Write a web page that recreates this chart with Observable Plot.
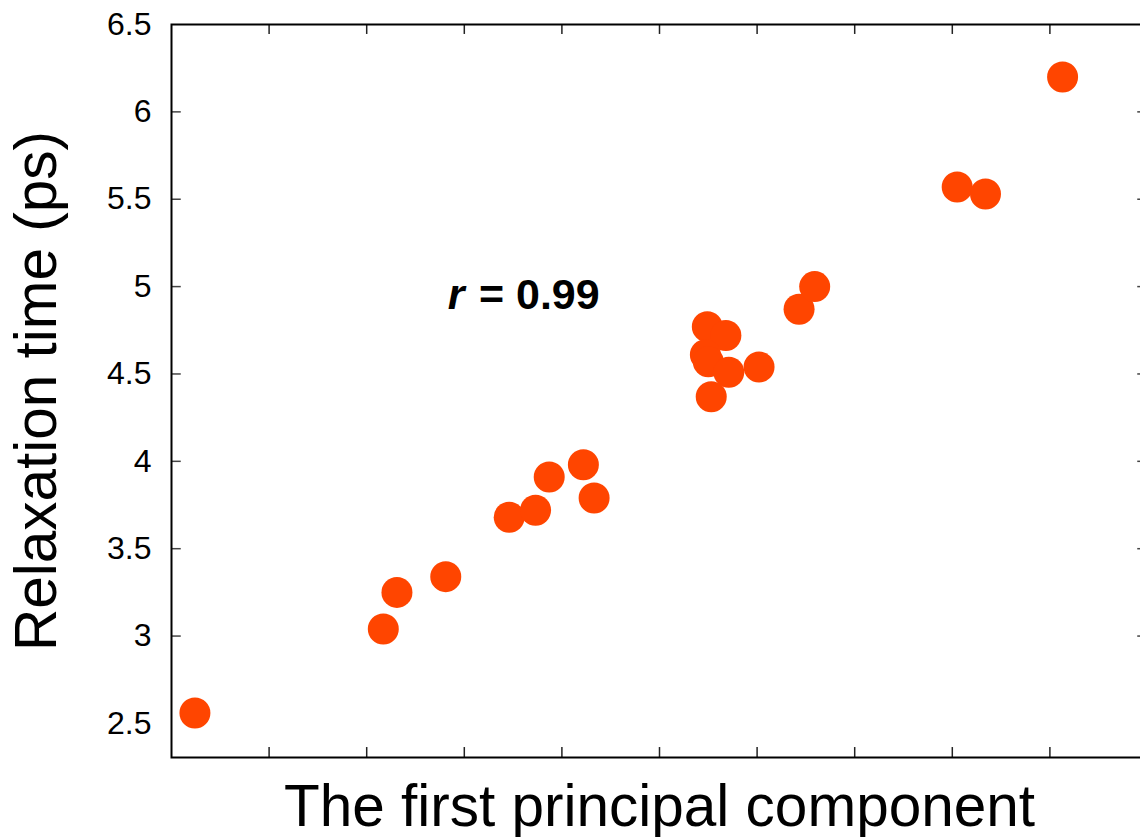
<!DOCTYPE html>
<html>
<head>
<meta charset="utf-8">
<script src="https://cdn.jsdelivr.net/npm/d3@7"></script>
<script src="https://cdn.jsdelivr.net/npm/@observablehq/plot@0.6"></script>
<style>
  html, body { margin: 0; padding: 0; background: #fff; overflow: hidden; }
  #chart svg { max-width: none !important; display: block; }
</style>
</head>
<body>
<div id="chart"></div>
<script>
// Data
const pcValues   = [0.24, 2.17, 2.31, 2.81, 3.46, 3.73, 3.87, 4.22, 4.33, 5.49, 5.68, 5.47, 5.50, 5.71, 5.53, 6.02, 6.43, 6.59, 8.05, 8.34, 9.13];
const relaxTimes = [2.56, 3.04, 3.25, 3.34, 3.68, 3.72, 3.91, 3.98, 3.79, 4.77, 4.72, 4.61, 4.57, 4.51, 4.37, 4.54, 4.87, 5.00, 5.57, 5.53, 6.20];
const yTickValues = [2.5, 3, 3.5, 4, 4.5, 5, 5.5, 6, 6.5];
const yTickLabels = ["2.5", "3", "3.5", "4", "4.5", "5", "5.5", "6", "6.5"];
const xTickValues = [1, 2, 3, 4, 5, 6, 7, 8, 9];
const xLabel = "The first principal component";
const yLabel = "Relaxation time (ps)";
const annotationSymbol = "r";
const annotationValue = "= 0.99";

const points = pcValues.map((x, i) => ({x, y: relaxTimes[i]}));
const xDomain = [0, 10];
const yDomain = [2.305, 6.5];
const tickLenX = 0.1;     // data units along x
const tickLenY = 0.057;   // data units along y

const chart = Plot.plot({
  width: 1160,
  height: 837,
  marginLeft: 171,
  marginRight: 13,
  marginTop: 24,
  marginBottom: 80,
  style: {fontFamily: "'Liberation Sans', Arial, sans-serif", color: "#000", background: "#fff"},
  x: {domain: xDomain, axis: null},
  y: {domain: yDomain, axis: null},
  marks: [
    // inward ticks
    Plot.ruleY(yTickValues.slice(1, -1), {x1: xDomain[0], x2: xDomain[0] + tickLenX, stroke: "#444", strokeWidth: 1.5}),
    Plot.ruleY(yTickValues.slice(1, -1), {x1: xDomain[1] - tickLenX, x2: xDomain[1], stroke: "#444", strokeWidth: 1.5}),
    Plot.ruleX(xTickValues, {y1: yDomain[0], y2: yDomain[0] + tickLenY, stroke: "#222", strokeWidth: 1.5}),
    Plot.ruleX(xTickValues, {y1: yDomain[1] - tickLenY, y2: yDomain[1], stroke: "#222", strokeWidth: 1.5}),
    Plot.frame({stroke: "#000", strokeWidth: 2}),
    // y tick labels
    Plot.text(yTickValues, {
      x: xDomain[0], y: d => d, text: (d, i) => yTickLabels[i],
      textAnchor: "end", dx: -20, fontSize: 32, fill: "#000", lineAnchor: "middle"
    }),
    // points
    Plot.dot(points, {x: "x", y: "y", r: 15.5, fill: "#FF4500", stroke: "none"}),
    // annotation
    Plot.text([annotationSymbol], {
      x: 2.83, y: 4.869, text: d => d, textAnchor: "start", lineAnchor: "bottom",
      fontSize: 43, fontWeight: "bold", fontStyle: "italic", fill: "#000"
    }),
    Plot.text([annotationValue], {
      x: 3.15, y: 4.869, text: d => d, textAnchor: "start", lineAnchor: "bottom",
      fontSize: 43, fontWeight: "bold", fill: "#000"
    }),
    // axis labels
    Plot.text([xLabel], {
      frameAnchor: "bottom", text: d => d, dy: 50, lineAnchor: "middle", textAnchor: "middle",
      fontSize: 58.5, fill: "#000"
    }),
    Plot.text([yLabel], {
      frameAnchor: "left", text: d => d, dx: -134, rotate: -90, lineAnchor: "middle", textAnchor: "middle",
      fontSize: 58.5, fill: "#000"
    })
  ]
});
chart.style.maxWidth = "none";
chart.style.overflow = "hidden";
document.getElementById("chart").appendChild(chart);
</script>
</body>
</html>
